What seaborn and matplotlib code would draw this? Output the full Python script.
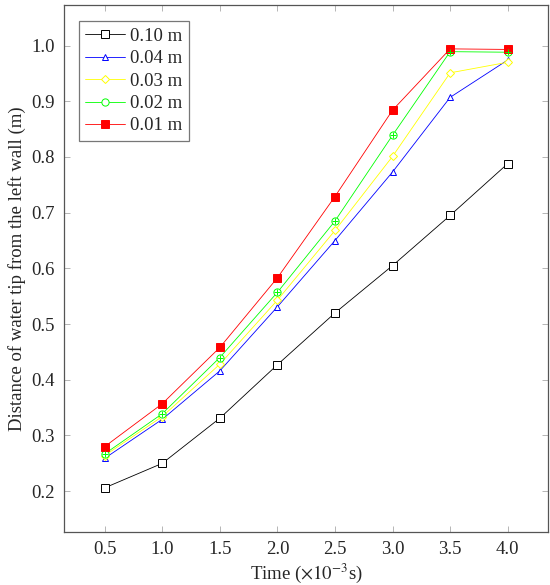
import numpy as np
import pandas as pd
import matplotlib
matplotlib.use("Agg")
import matplotlib.pyplot as plt
import seaborn as sns
from matplotlib.lines import Line2D

time = [0.5, 1.0, 1.5, 2.0, 2.5, 3.0, 3.5, 4.0]
d010 = [0.206, 0.250, 0.331, 0.427, 0.520, 0.605, 0.695, 0.788]
d004 = [0.259, 0.329, 0.416, 0.531, 0.650, 0.773, 0.907, 0.974]
d003 = [0.264, 0.334, 0.428, 0.543, 0.668, 0.801, 0.951, 0.970]
d002 = [0.267, 0.339, 0.440, 0.557, 0.685, 0.839, 0.989, 0.988]
d001 = [0.280, 0.357, 0.458, 0.583, 0.729, 0.884, 0.994, 0.993]
labels = ["0.10 m", "0.04 m", "0.03 m", "0.02 m", "0.01 m"]
series = [d010, d004, d003, d002, d001]

sns.set_style("ticks")
plt.rcParams['font.family'] = ['Liberation Serif', 'DejaVu Serif']
plt.rcParams['mathtext.fontset'] = 'stix'

fig = plt.figure(figsize=(5.5, 5.85), dpi=100)
ax = fig.add_axes([0.117, 0.091, 0.8794, 0.9005])

styles = [
    dict(color="#000000", marker="s", mfc="white", ms=5.2, mew=0.7),
    dict(color="#0000ff", marker="^", mfc="white", ms=5.0, mew=0.7),
    dict(color="#ffff00", marker="D", mfc="white", ms=3.6, mew=0.7),
    dict(color="#00ff00", marker="o", mfc="white", ms=5.2, mew=0.7),
    dict(color="#ff0000", marker="s", mfc="#ff0000", ms=5.6, mew=0.7),
]

handles = []
for lab, vals, st in zip(labels, series, styles):
    df = pd.DataFrame({"t": time, "d": vals})
    sns.lineplot(data=df, x="t", y="d", ax=ax, color=st["color"], lw=0.6,
                 marker=st["marker"], markersize=st["ms"],
                 markerfacecolor=st["mfc"], markeredgecolor=st["color"],
                 markeredgewidth=st["mew"], legend=False, zorder=3)
    h = Line2D([], [], color=st["color"], lw=0.6, marker=st["marker"],
               markersize=st["ms"], markerfacecolor=st["mfc"],
               markeredgecolor=st["color"], markeredgewidth=st["mew"])
    if lab == "0.02 m":
        sns.scatterplot(data=df, x="t", y="d", ax=ax, marker="+", s=20,
                        color=st["color"], linewidth=0.7, legend=False, zorder=4)
    handles.append(h)

ax.set_xlim(0.15, 4.35)
ax.set_ylim(0.1272, 1.0728)
ax.set_xticks(time)
ax.set_xticklabels([f"{t:.1f}" for t in time])
yt = [0.2, 0.3, 0.4, 0.5, 0.6, 0.7, 0.8, 0.9, 1.0]
ax.set_yticks(yt)
ax.set_yticklabels([f"{v:.1f}" for v in yt])
ax.tick_params(direction="in", length=4, width=0.6, color="#aaaaaa",
               top=True, right=True, labelsize=13.5, pad=7)
for sp in ax.spines.values():
    sp.set_color("#555555")
    sp.set_linewidth(0.9)

ax.set_xlabel(r"Time ($\times 10^{-3}$s)", fontsize=13.5, labelpad=2.5)
ax.set_ylabel("Distance of water tip from the left wall (m)", fontsize=13.5, labelpad=4)

leg = ax.legend(handles, labels, loc="upper left", bbox_to_anchor=(0.03, 0.969),
                fontsize=13.5, frameon=True, fancybox=False, handlelength=2.1,
                handletextpad=0.3, borderpad=0.35, labelspacing=0.28, borderaxespad=0)
leg.get_frame().set_edgecolor("#555555")
leg.get_frame().set_linewidth(0.9)

fig.savefig("out.png", dpi=100)
